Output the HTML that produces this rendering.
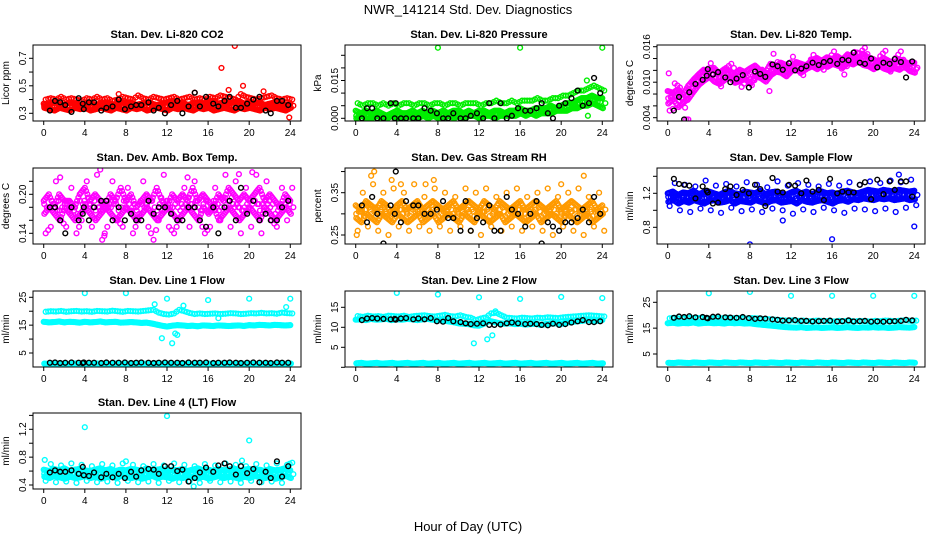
<!DOCTYPE html>
<html><head><meta charset="utf-8"><title>NWR_141214 Std. Dev. Diagnostics</title>
<style>
html,body{margin:0;padding:0;background:#fff;}
svg{display:block;font-family:"Liberation Sans",Arial,sans-serif;}
</style></head>
<body>
<svg id="chart" width="936" height="540" viewBox="0 0 936 540" xmlns="http://www.w3.org/2000/svg">
<rect width="936" height="540" fill="#fff"/>
<text x="468" y="14" text-anchor="middle" font-size="13">NWR_141214 Std. Dev. Diagnostics</text>
<text x="468" y="531" text-anchor="middle" font-size="13">Hour of Day (UTC)</text>
</svg>
<script>
// ---- categories ----
const xTicks = [0,4,8,12,16,20,24];
const blackHours = [0.6,1.1,1.6,2.1,2.7,3.4,3.8,3.9,4.4,4.9,5.6,6.1,6.7,7.3,7.9,8.5,9.0,9.5,10.2,10.7,11.2,11.8,12.4,13.0,13.5,14.1,14.7,15.2,15.8,16.5,17.0,17.6,18.1,18.7,19.2,19.8,20.4,21.0,21.6,22.1,22.7,23.2,23.8];
const bandHours = [];
for (let i = 0; i < 49; i++) bandHours.push(i * 0.5);

// ---- P1 CO2 ----
const co2A = [0.37,0.36,0.38,0.37,0.36,0.38,0.37,0.36,0.37,0.38,0.36,0.37,0.38,0.37,0.36,0.38,0.37,0.38,0.36,0.37,0.38,0.37,0.36,0.37,0.38,0.39,0.37,0.38,0.36,0.37,0.38,0.37,0.38,0.39,0.37,0.38,0.37,0.38,0.39,0.37,0.38,0.37,0.38,0.36,0.37,0.38,0.37,0.36,0.37];
const co2B = [0.34,0.33,0.32,0.34,0.33,0.32,0.34,0.33,0.34,0.32,0.33,0.34,0.33,0.32,0.34,0.33,0.32,0.34,0.33,0.34,0.32,0.33,0.34,0.33,0.32,0.34,0.33,0.34,0.33,0.32,0.34,0.33,0.34,0.32,0.33,0.34,0.33,0.32,0.34,0.33,0.34,0.33,0.32,0.34,0.33,0.34,0.33,0.32,0.34];
const co2C = [0.40,0.41,0.40,0.42,0.40,0.41,0.40,0.39,0.41,0.40,0.42,0.40,0.41,0.39,0.40,0.42,0.41,0.40,0.43,0.41,0.40,0.42,0.41,0.40,0.41,0.42,0.40,0.41,0.42,0.40,0.41,0.40,0.42,0.41,0.43,0.42,0.41,0.40,0.44,0.42,0.41,0.40,0.41,0.42,0.43,0.41,0.40,0.41,0.40];
const co2OutT = [17.3,18.6,18.0,19.4,21.4,23.9,14.7,7.3];
const co2OutV = [0.63,0.79,0.47,0.50,0.46,0.27,0.45,0.44];
const co2Black = [0.32,0.39,0.38,0.36,0.31,0.41,0.37,0.33,0.38,0.38,0.32,0.34,0.35,0.40,0.33,0.35,0.36,0.36,0.38,0.32,0.34,0.30,0.36,0.39,0.30,0.35,0.45,0.35,0.42,0.37,0.35,0.39,0.42,0.34,0.34,0.37,0.40,0.42,0.32,0.30,0.39,0.39,0.36];

// ---- P2 Pressure ----
const presA = [0.006,0.005,0.006,0.006,0.005,0.006,0.005,0.006,0.005,0.006,0.006,0.005,0.006,0.006,0.005,0.006,0.006,0.005,0.006,0.006,0.005,0.006,0.006,0.006,0.005,0.006,0.006,0.007,0.006,0.006,0.007,0.006,0.007,0.007,0.007,0.008,0.007,0.007,0.008,0.008,0.009,0.009,0.010,0.011,0.011,0.012,0.013,0.012,0.011];
const presB = [0.003,0.002,0.003,0.002,0.003,0.002,0.001,0.002,0.003,0.002,0.002,0.003,0.002,0.003,0.002,0.003,0.002,0.003,0.002,0.003,0.003,0.002,0.003,0.002,0.003,0.003,0.002,0.003,0.003,0.002,0.003,0.003,0.004,0.003,0.003,0.004,0.004,0.004,0.005,0.004,0.005,0.006,0.006,0.007,0.008,0.008,0.009,0.008,0.008];
const presC = [0.000,0.001,0.000,0.000,0.001,0.000,0.000,0.001,0.000,0.000,0.001,0.000,0.000,0.001,0.000,0.001,0.000,0.000,0.001,0.000,0.001,0.000,0.001,0.001,0.000,0.001,0.001,0.000,0.001,0.001,0.001,0.001,0.002,0.001,0.002,0.001,0.002,0.002,0.002,0.003,0.003,0.003,0.004,0.004,0.005,0.005,0.006,0.005,0.004];
const presOutT = [8,16,24,22.5,22.6];
const presOutV = [0.028,0.028,0.028,0.015,0.001];
const presBlack = [0.000,0.004,0.004,0.000,0.000,0.006,0.000,0.006,0.000,0.000,0.000,0.000,0.004,0.003,0.002,0.000,0.000,0.002,0.000,0.000,0.001,0.002,0.000,0.006,0.000,0.006,0.000,0.001,0.004,0.003,0.003,0.004,0.006,0.002,0.000,0.005,0.006,0.008,0.011,0.005,0.006,0.016,0.010];

// ---- P3 Li-820 Temp ----
const ltA = [0.0085,0.0082,0.0088,0.0079,0.0094,0.0104,0.0113,0.0121,0.0118,0.0124,0.0115,0.0122,0.0119,0.0113,0.0121,0.0117,0.0123,0.0128,0.0120,0.0116,0.0131,0.0127,0.0133,0.0129,0.0126,0.0134,0.0131,0.0128,0.0137,0.0141,0.0136,0.0142,0.0139,0.0144,0.0138,0.0147,0.0143,0.0140,0.0148,0.0142,0.0139,0.0134,0.0141,0.0136,0.0132,0.0139,0.0135,0.0131,0.0133];
const ltB = [0.0064,0.0071,0.0058,0.0066,0.0073,0.0085,0.0096,0.0103,0.0109,0.0101,0.0097,0.0104,0.0108,0.0099,0.0102,0.0106,0.0098,0.0110,0.0107,0.0101,0.0112,0.0118,0.0116,0.0110,0.0119,0.0121,0.0117,0.0123,0.0127,0.0122,0.0129,0.0126,0.0131,0.0128,0.0125,0.0133,0.0130,0.0135,0.0129,0.0127,0.0122,0.0128,0.0123,0.0120,0.0124,0.0121,0.0127,0.0119,0.0116];
const ltC = [0.0052,0.0098,0.0091,0.0057,0.0083,0.0094,0.0106,0.0114,0.0132,0.0108,0.0093,0.0124,0.0131,0.0117,0.0092,0.0103,0.0095,0.0112,0.0121,0.0109,0.0118,0.0134,0.0122,0.0124,0.0143,0.0119,0.0112,0.0131,0.0146,0.0128,0.0121,0.0139,0.0152,0.0133,0.0113,0.0141,0.0151,0.0149,0.0158,0.0137,0.0129,0.0144,0.0153,0.0118,0.0141,0.0152,0.0124,0.0134,0.0122];
const ltOutT = [1.8,2.0,0.1,0.3,0.5,9.9,10.3];
const ltOutV = [0.0037,0.0037,0.0115,0.0075,0.0055,0.0085,0.0148];
const ltBlack = [0.0052,0.0075,0.0037,0.0083,0.0097,0.0104,0.0111,0.0122,0.0113,0.0117,0.0108,0.0100,0.0106,0.0112,0.0091,0.0118,0.0114,0.0109,0.0130,0.0127,0.0121,0.0132,0.0120,0.0123,0.0127,0.0133,0.0129,0.0134,0.0136,0.0131,0.0138,0.0137,0.0150,0.0133,0.0131,0.0140,0.0125,0.0133,0.0131,0.0139,0.0134,0.0108,0.0135];

// ---- P4 Amb Box Temp ----
const abA = [0.19,0.20,0.18,0.20,0.19,0.19,0.18,0.20,0.21,0.19,0.20,0.19,0.18,0.20,0.19,0.21,0.19,0.20,0.18,0.19,0.20,0.19,0.21,0.19,0.18,0.20,0.19,0.20,0.19,0.21,0.19,0.20,0.19,0.18,0.20,0.19,0.21,0.20,0.19,0.20,0.19,0.20,0.21,0.19,0.20,0.19,0.18,0.20,0.19];
const abB = [0.17,0.18,0.17,0.16,0.18,0.17,0.16,0.17,0.18,0.17,0.16,0.17,0.18,0.17,0.16,0.17,0.18,0.17,0.16,0.17,0.18,0.17,0.16,0.17,0.18,0.17,0.16,0.17,0.18,0.17,0.16,0.18,0.17,0.18,0.16,0.17,0.18,0.17,0.16,0.17,0.18,0.17,0.16,0.18,0.17,0.16,0.17,0.18,0.17];
const abC = [0.14,0.15,0.22,0.16,0.15,0.21,0.14,0.16,0.22,0.15,0.23,0.13,0.15,0.22,0.16,0.15,0.21,0.14,0.16,0.22,0.15,0.13,0.16,0.23,0.15,0.14,0.16,0.21,0.15,0.22,0.16,0.14,0.15,0.21,0.16,0.23,0.15,0.22,0.14,0.21,0.15,0.23,0.14,0.22,0.16,0.15,0.21,0.16,0.21];
const abOutT = [1.6,5.9,5.5,14.0,19.0,20.3];
const abOutV = [0.226,0.136,0.238,0.226,0.231,0.234];
const abBlack = [0.18,0.18,0.16,0.14,0.18,0.16,0.17,0.18,0.16,0.18,0.19,0.19,0.16,0.18,0.16,0.17,0.16,0.16,0.19,0.17,0.18,0.18,0.17,0.16,0.16,0.18,0.18,0.16,0.15,0.18,0.14,0.18,0.19,0.16,0.21,0.17,0.19,0.16,0.17,0.16,0.16,0.18,0.19];

// ---- P5 Gas Stream RH ----
const rhA = [0.32,0.31,0.33,0.32,0.31,0.33,0.32,0.30,0.32,0.33,0.31,0.32,0.33,0.31,0.32,0.33,0.32,0.31,0.32,0.33,0.31,0.32,0.33,0.32,0.31,0.33,0.32,0.31,0.33,0.32,0.31,0.32,0.33,0.31,0.32,0.33,0.32,0.31,0.32,0.33,0.31,0.32,0.33,0.32,0.31,0.32,0.33,0.31,0.32];
const rhB = [0.29,0.28,0.30,0.29,0.28,0.30,0.29,0.28,0.30,0.29,0.28,0.29,0.30,0.28,0.29,0.30,0.28,0.29,0.30,0.29,0.28,0.30,0.29,0.28,0.30,0.29,0.28,0.29,0.30,0.28,0.29,0.30,0.29,0.28,0.29,0.30,0.28,0.29,0.30,0.29,0.28,0.30,0.29,0.28,0.29,0.30,0.28,0.29,0.30];
const rhC = [0.26,0.35,0.27,0.37,0.26,0.35,0.25,0.36,0.27,0.35,0.26,0.37,0.27,0.34,0.26,0.36,0.27,0.35,0.26,0.34,0.27,0.36,0.26,0.35,0.25,0.36,0.27,0.34,0.26,0.35,0.27,0.36,0.26,0.34,0.27,0.35,0.26,0.36,0.25,0.34,0.27,0.35,0.26,0.36,0.25,0.34,0.27,0.35,0.26];
const rhOutT = [1.5,3.5,6.8,7.6,20,22.2,0.1,1.8,4.4];
const rhOutV = [0.39,0.38,0.37,0.38,0.37,0.39,0.25,0.40,0.37];
const rhBlack = [0.32,0.28,0.34,0.30,0.23,0.32,0.30,0.40,0.28,0.33,0.32,0.32,0.30,0.30,0.31,0.33,0.29,0.29,0.26,0.33,0.26,0.29,0.28,0.32,0.26,0.26,0.34,0.31,0.30,0.27,0.30,0.33,0.23,0.28,0.27,0.26,0.28,0.28,0.29,0.31,0.28,0.34,0.30];

// ---- P6 Sample Flow ----
const sfA = [1.20,1.22,1.18,1.21,1.20,1.23,1.19,1.21,1.22,1.20,1.18,1.21,1.23,1.20,1.19,1.22,1.21,1.20,1.23,1.19,1.21,1.22,1.20,1.18,1.21,1.23,1.20,1.22,1.19,1.21,1.22,1.20,1.21,1.19,1.22,1.23,1.21,1.20,1.22,1.24,1.23,1.22,1.24,1.23,1.22,1.24,1.23,1.22,1.23];
const sfB = [1.10,1.12,1.08,1.11,1.09,1.12,1.10,1.08,1.11,1.12,1.09,1.10,1.12,1.08,1.11,1.10,1.09,1.12,1.10,1.08,1.11,1.12,1.09,1.10,1.11,1.08,1.12,1.10,1.09,1.11,1.12,1.10,1.08,1.11,1.12,1.10,1.13,1.12,1.14,1.13,1.12,1.14,1.13,1.14,1.12,1.13,1.14,1.12,1.13];
const sfC = [1.05,1.32,1.00,1.30,0.98,1.28,1.02,1.35,1.00,1.29,0.97,1.31,1.03,1.28,0.99,1.33,1.01,1.30,0.98,1.27,1.02,1.34,1.00,1.29,0.96,1.32,1.01,1.30,0.98,1.28,1.03,1.31,1.00,1.29,0.97,1.33,1.02,1.30,1.01,1.34,0.99,1.32,1.02,1.35,0.98,1.33,1.03,1.36,1.06];
const sfOutT = [8,11.2,16,24,22.5];
const sfOutV = [0.6,0.88,0.66,0.81,1.42];
const sfBlack = [1.37,1.31,1.30,1.29,1.14,1.28,1.23,1.21,1.08,1.09,1.25,1.28,1.18,1.24,1.20,1.30,1.25,1.05,1.38,1.22,1.21,1.30,1.29,1.20,1.35,1.22,1.24,1.12,1.37,1.20,1.22,1.21,1.21,1.30,1.33,1.13,1.36,1.19,1.34,1.24,1.34,1.34,1.16];

// ---- P7 Line 1 Flow ----
const l1A = [19.8,20.0,19.9,20.1,19.8,20.0,20.1,19.9,20.0,19.8,20.1,20.0,19.9,20.2,20.0,19.8,20.1,20.0,19.9,20.1,20.3,20.5,19.5,19.0,18.8,19.2,20.5,20.0,19.4,19.0,19.2,19.0,19.1,19.2,19.0,19.1,19.3,19.2,19.0,19.1,19.3,19.2,19.4,19.2,19.3,19.1,19.5,19.3,19.2];
const l1B = [16.2,16.0,16.1,16.3,16.0,16.2,16.1,15.9,16.2,16.0,16.1,16.3,16.0,16.1,16.2,15.9,16.0,16.1,16.0,15.8,15.9,15.6,15.2,14.8,14.5,14.8,15.0,14.9,14.7,14.8,14.6,14.9,14.8,14.7,14.9,14.8,14.7,14.8,14.9,14.7,15.0,14.9,15.1,15.0,14.9,15.1,15.0,14.9,15.0];
const l1C = [1.2,1.0,1.3,1.1,1.2,1.0,1.3,1.1,1.2,1.0,1.3,1.1,1.2,1.0,1.3,1.1,1.2,1.0,1.3,1.1,1.2,1.0,1.3,1.1,1.2,1.0,1.3,1.1,1.2,1.0,1.3,1.1,1.2,1.0,1.3,1.1,1.2,1.0,1.3,1.1,1.2,1.0,1.3,1.1,1.2,1.0,1.3,1.1,1.2];
const l1OutT = [4,8,12,16,20,24,11.5,12.8,13,10.8,12.5,13.6,17,23.6];
const l1OutV = [26.5,26.5,24.5,24,24.5,24.5,10.3,12,11.5,22.5,8.5,22,17.5,21.5];
const l1Black = [1.5,1.6,1.4,1.5,1.6,1.5,1.4,1.6,1.5,1.5,1.4,1.6,1.5,1.5,1.6,1.4,1.5,1.6,1.5,1.4,1.5,1.6,1.5,1.5,1.4,1.6,1.5,1.5,1.6,1.4,1.5,1.5,1.6,1.5,1.4,1.5,1.6,1.5,1.5,1.4,1.6,1.5,1.5];

// ---- P8 Line 2 Flow ----
const l2A = [12.8,12.6,12.9,12.7,12.8,12.6,12.9,12.8,12.7,12.9,12.6,12.8,12.9,13.0,12.8,12.7,12.9,13.1,12.8,12.7,13.0,12.6,12.4,11.8,12.2,12.5,13.5,13.6,13.0,12.4,12.3,12.2,12.4,12.3,12.2,12.4,12.3,12.5,12.4,12.3,12.5,12.6,12.7,12.8,12.9,13.0,12.9,12.8,12.7];
const l2B = [11.9,12.0,11.8,12.1,11.9,12.0,12.1,11.8,12.0,11.9,12.1,12.0,11.8,12.0,12.1,11.9,11.8,11.7,11.5,11.3,11.0,10.9,10.8,10.5,10.4,10.9,11.6,11.3,11.0,10.9,11.0,10.8,10.9,10.7,10.8,10.9,10.6,10.8,10.9,11.0,10.8,11.2,11.3,11.5,11.6,11.8,11.7,11.6,11.8];
const l2C = [1.0,1.1,0.9,1.0,1.1,0.9,1.0,1.1,0.9,1.0,1.1,0.9,1.0,1.1,0.9,1.0,1.1,0.9,1.0,1.1,0.9,1.0,1.1,0.9,1.0,1.1,0.9,1.0,1.1,0.9,1.0,1.1,0.9,1.0,1.1,0.9,1.0,1.1,0.9,1.0,1.1,0.9,1.0,1.1,0.9,1.0,1.1,0.9,1.0];
const l2OutT = [4,8,12,16,20,24,11.5,12.8,13.3,13.6];
const l2OutV = [18.6,18.2,17.5,17.1,17.6,17.3,6.0,7.0,8.0,14.0];
const l2Black = [11.8,12.2,12.3,12.2,12.1,12.0,12.1,11.9,12.2,12.3,12.0,12.2,12.0,12.3,11.5,11.4,12.3,11.5,11.3,11.0,10.8,10.9,11.0,10.6,10.6,10.7,11.0,11.2,11.0,10.8,10.9,10.8,10.6,10.5,10.9,10.6,10.8,11.2,11.5,11.8,11.3,11.3,11.5];

// ---- P9 Line 3 Flow ----
const l3A = [18.8,19.0,18.7,18.9,19.1,18.8,19.0,18.9,18.7,19.0,18.8,19.1,18.9,18.8,19.0,18.7,18.9,18.8,18.6,18.5,18.3,18.2,18.0,17.9,18.0,17.8,17.9,17.7,17.8,17.9,17.7,17.8,17.6,17.8,17.7,17.9,17.6,17.8,17.7,17.6,17.8,17.7,17.9,17.8,17.7,17.9,18.0,17.8,17.9];
const l3B = [16.9,17.1,16.8,17.0,16.9,17.2,16.8,17.0,17.1,16.9,17.0,16.8,17.1,16.9,17.0,16.8,16.9,16.6,16.4,16.2,16.0,15.8,15.6,15.4,15.3,15.2,15.4,15.1,15.2,15.3,15.1,15.2,15.3,15.1,15.2,15.4,15.2,15.1,15.3,15.2,15.4,15.2,15.3,15.1,15.2,15.4,15.3,15.2,15.4];
const l3C = [1.6,1.5,1.7,1.6,1.5,1.7,1.6,1.5,1.7,1.6,1.5,1.7,1.6,1.5,1.7,1.6,1.5,1.7,1.6,1.5,1.7,1.6,1.5,1.7,1.6,1.5,1.7,1.6,1.5,1.7,1.6,1.5,1.7,1.6,1.5,1.7,1.6,1.5,1.7,1.6,1.5,1.7,1.6,1.5,1.7,1.6,1.5,1.7,1.6];
const l3OutT = [4,8,12,16,20,24];
const l3OutV = [28.5,29,27.5,27.5,27.5,27.5];
const l3Black = [19.0,19.5,19.3,19.6,19.2,19.3,19.0,18.8,19.4,19.5,19.2,19.1,19.0,19.3,18.9,18.6,18.8,18.7,18.4,18.2,17.9,18.0,18.1,17.8,17.8,17.6,17.7,17.8,17.9,17.6,17.7,18.0,17.6,17.7,17.8,17.5,17.6,17.5,17.6,17.7,17.8,18.2,18.0];

// ---- P10 Line 4 (LT) Flow ----
const l4A = [0.62,0.60,0.63,0.61,0.64,0.60,0.62,0.63,0.61,0.60,0.62,0.64,0.61,0.63,0.60,0.62,0.61,0.63,0.62,0.60,0.64,0.61,0.62,0.63,0.60,0.62,0.61,0.63,0.60,0.62,0.64,0.61,0.62,0.60,0.63,0.61,0.62,0.64,0.60,0.62,0.63,0.61,0.62,0.60,0.63,0.61,0.62,0.64,0.61];
const l4B = [0.52,0.50,0.53,0.51,0.49,0.52,0.50,0.51,0.53,0.50,0.52,0.49,0.51,0.52,0.50,0.53,0.51,0.50,0.52,0.49,0.51,0.53,0.50,0.52,0.51,0.49,0.52,0.50,0.53,0.51,0.50,0.52,0.49,0.51,0.53,0.50,0.52,0.51,0.49,0.52,0.50,0.53,0.51,0.50,0.52,0.49,0.51,0.53,0.50];
const l4C = [0.46,0.70,0.44,0.68,0.45,0.71,0.43,0.69,0.46,0.67,0.44,0.70,0.45,0.68,0.43,0.71,0.46,0.69,0.44,0.67,0.45,0.70,0.43,0.68,0.46,0.71,0.44,0.69,0.45,0.67,0.43,0.70,0.46,0.68,0.44,0.71,0.45,0.69,0.43,0.67,0.46,0.70,0.44,0.68,0.45,0.71,0.43,0.69,0.72];
const l4OutT = [4,12,20,14.6,0.1,8,19.3];
const l4OutV = [1.23,1.39,1.04,0.38,0.76,0.74,0.75];
const l4Black = [0.58,0.61,0.59,0.59,0.61,0.56,0.66,0.54,0.53,0.58,0.51,0.56,0.51,0.56,0.50,0.59,0.52,0.61,0.63,0.62,0.56,0.67,0.67,0.60,0.62,0.45,0.50,0.58,0.65,0.59,0.68,0.71,0.67,0.55,0.67,0.57,0.63,0.44,0.59,0.50,0.74,0.52,0.67];

const svg = document.getElementById('chart');
const NS = 'http://www.w3.org/2000/svg';
const W = 268, H = 76;

function mk(tag, attrs, parent) {
  const e = document.createElementNS(NS, tag);
  for (const k in attrs) e.setAttribute(k, attrs[k]);
  parent.appendChild(e);
  return e;
}

const panels = [
  {key:'co2', left:33, top:45, title:'Stan. Dev. Li-820 CO2', ylab:'Licor ppm', yt:[0.3,0.4,0.5,0.6,0.7], yl:['0.3','','0.5','','0.7'], map:[0.3,113.3,0.7,58.3], rows:[co2B,co2A,co2C], outT:co2OutT, outV:co2OutV, black:co2Black, col:'#ff0000'},
  {key:'pressure', left:345, top:45, title:'Stan. Dev. Li-820 Pressure', ylab:'kPa', yt:[0,0.005,0.01,0.015,0.02,0.025], yl:['0.000','','','0.015','',''], map:[0,118.3,0.025,55.3], rows:[presC,presB,presA], outT:presOutT, outV:presOutV, black:presBlack, col:'#00ee00'},
  {key:'li820-temp', left:657, top:45, title:'Stan. Dev. Li-820 Temp.', ylab:'degrees C', yt:[0.004,0.006,0.008,0.01,0.012,0.014,0.016], yl:['0.004','','','0.010','','','0.016'], map:[0.004,117.7,0.016,46.7], rows:[ltB,ltA,ltC], outT:ltOutT, outV:ltOutV, black:ltBlack, col:'#ff00ff'},
  {key:'amb-box-temp', left:33, top:168, title:'Stan. Dev. Amb. Box Temp.', ylab:'degrees C', yt:[0.14,0.16,0.18,0.2,0.22], yl:['0.14','','','0.20',''], map:[0.14,233.3,0.2,194.3], rows:[abB,abA,abC], outT:abOutT, outV:abOutV, black:abBlack, col:'#ff00ff'},
  {key:'gas-stream-rh', left:345, top:168, title:'Stan. Dev. Gas Stream RH', ylab:'percent', yt:[0.25,0.3,0.35,0.4], yl:['0.25','','0.35',''], map:[0.25,235,0.35,192.7], rows:[rhB,rhA,rhC], outT:rhOutT, outV:rhOutV, black:rhBlack, col:'#ff9a00'},
  {key:'sample-flow', left:657, top:168, title:'Stan. Dev. Sample Flow', ylab:'ml/min', yt:[0.8,1.0,1.2,1.4], yl:['0.8','','1.2',''], map:[0.8,227.3,1.2,193.3], rows:[sfB,sfA,sfC], outT:sfOutT, outV:sfOutV, black:sfBlack, col:'#0000ff'},
  {key:'line1-flow', left:33, top:291, title:'Stan. Dev. Line 1 Flow', ylab:'ml/min', yt:[5,10,15,20,25], yl:['5','','15','','25'], map:[5,353,25,297.3], rows:[l1C,l1B,l1A], outT:l1OutT, outV:l1OutV, black:l1Black, col:'#00ffff', separate:true},
  {key:'line2-flow', left:345, top:291, title:'Stan. Dev. Line 2 Flow', ylab:'ml/min', yt:[0,5,10,15], yl:['','5','10','15'], map:[5,347.3,15,307.3], rows:[l2C,l2B,l2A], outT:l2OutT, outV:l2OutV, black:l2Black, col:'#00ffff', separate:true},
  {key:'line3-flow', left:657, top:291, title:'Stan. Dev. Line 3 Flow', ylab:'ml/min', yt:[5,15,25], yl:['5','15','25'], map:[5,354,25,302.3], rows:[l3C,l3B,l3A], outT:l3OutT, outV:l3OutV, black:l3Black, col:'#00ffff', separate:true},
  {key:'line4-flow', left:33, top:413, title:'Stan. Dev. Line 4 (LT) Flow', ylab:'ml/min', yt:[0.4,0.6,0.8,1.0,1.2,1.4], yl:['0.4','','0.8','','1.2',''], map:[0.4,485,1.2,429.3], rows:[l4B,l4A,l4C], outT:l4OutT, outV:l4OutV, black:l4Black, col:'#00ffff'}
];

const rowOffsets = [0.06, 0, 0.19];

panels.forEach(p => {
  const g = mk('g', {}, svg);
  
  
  const xs = t => p.left + W * (0.04 + 0.92 * t / 24);
  const ys = v => p.map[1] + (v - p.map[0]) * (p.map[3] - p.map[1]) / (p.map[2] - p.map[0]);
  const bottom = p.top + H;

  const clipId = 'clip-' + p.key;
  const cp = mk('clipPath', {id: clipId}, g);
  mk('rect', {x: p.left, y: p.top, width: W, height: H}, cp);

  const title = mk('text', {x: p.left + W / 2, y: p.top - 7, 'text-anchor': 'middle', 'font-size': 11, 'font-weight': 'bold'}, g);
  title.textContent = p.title;
  
  

  const yl = mk('text', {x: 0, y: 0, 'text-anchor': 'middle', 'font-size': 10, transform: `translate(${p.left - 24},${p.top + H / 2}) rotate(-90)`}, g);
  yl.textContent = p.ylab;
  
  

  const pts = mk('g', {'clip-path': `url(#${clipId})`, fill: 'none', 'stroke-width': 1.4}, g);
  
  

  function dot(t, v, color, name) {
    const c = mk('circle', {cx: xs(t), cy: ys(v), r: 2.4, stroke: color}, pts);
    
    
  }

  // main band rows (0 and 1) drawn densely, scatter row (2) sparser
  p.rows.forEach((row, ri) => {
    const steps = ri < 2 ? 4 : 2;
    row.forEach((v, i) => {
      for (let s = 0; s < steps; s++) {
        if (s > 0 && i >= row.length - 1) break;
        const f = s / steps;
        const val = s === 0 ? v : v + (row[i + 1] - v) * f;
        dot(bandHours[i] + rowOffsets[ri] + 0.5 * f, val, p.col, 'point-' + p.key);
      }
    });
  });
  // fill between the two main band rows (skip for flow panels with separated bands)
  if (!p.separate) {
    const r0 = p.rows[0], r1 = p.rows[1];
    r0.forEach((v, i) => {
      dot(bandHours[i] + 0.3, (v + r1[i]) / 2, p.col, 'point-' + p.key);
      if (i < r0.length - 1) dot(bandHours[i] + 0.05, (v + r1[i + 1]) / 2, p.col, 'point-' + p.key);
    });
  }
  p.outT.forEach((t, i) => dot(t, p.outV[i], p.col, 'outlier-point'));
  p.black.forEach((v, i) => dot(blackHours[i], v, '#000', 'reference-point'));

  const box = mk('rect', {x: p.left, y: p.top, width: W, height: H, fill: 'none', stroke: '#000', 'stroke-width': 1}, g);
  
  

  xTicks.forEach(t => {
    mk('line', {x1: xs(t), x2: xs(t), y1: bottom, y2: bottom + 4, stroke: '#000'}, g);
    const tx = mk('text', {x: xs(t), y: bottom + 15, 'text-anchor': 'middle', 'font-size': 10}, g);
    tx.textContent = t;
    
    
  });
  p.yt.forEach((v, i) => {
    const y = ys(v);
    if (y < p.top - 0.5 || y > bottom + 0.5) return;
    mk('line', {x1: p.left - 4, x2: p.left, y1: y, y2: y, stroke: '#000'}, g);
    if (p.yl[i]) {
      const ty = mk('text', {x: 0, y: 0, 'text-anchor': 'middle', 'font-size': 10, transform: `translate(${p.left - 7},${y}) rotate(-90)`}, g);
      ty.textContent = p.yl[i];
      
      
    }
  });
});
</script>
</body></html>
